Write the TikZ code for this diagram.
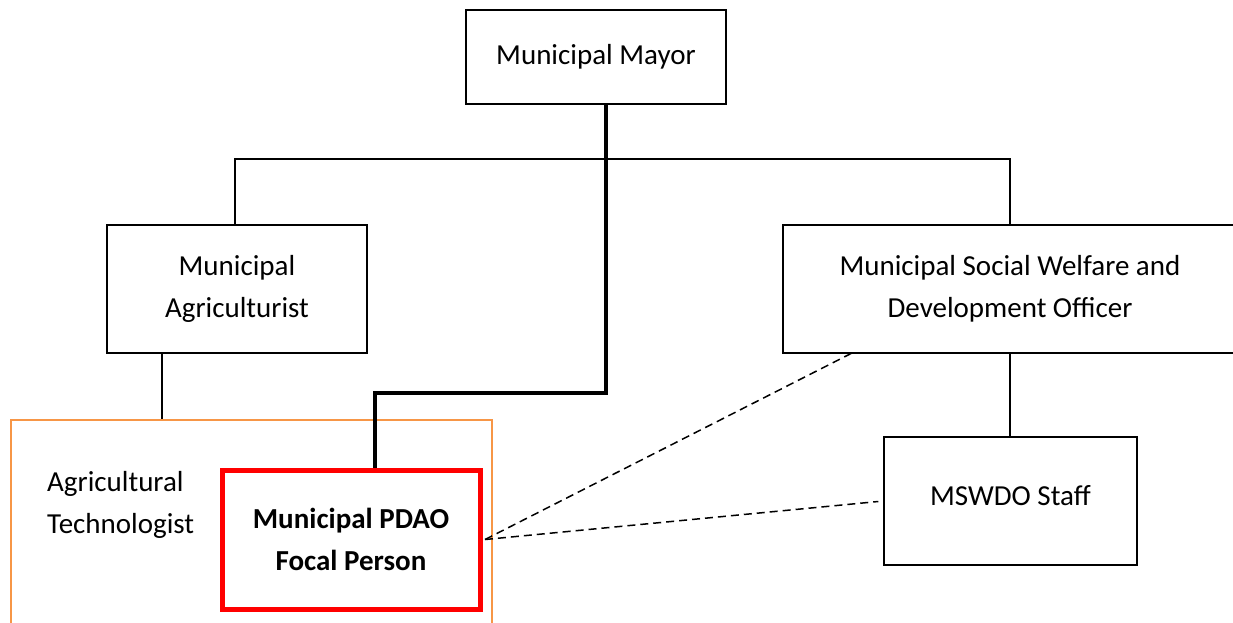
\documentclass[tikz,border=0pt]{standalone}
\usepackage{fontspec}
\setmainfont{Carlito}
\definecolor{boxorange}{RGB}{247,150,70}
\definecolor{boxred}{RGB}{255,0,0}
\tikzset{
  unit/.style={rectangle, draw=black, line width=1.5pt, inner sep=0pt, align=center,
    font=\fontsize{29}{42}\selectfont},
  thinline/.style={line width=1.5pt},
  thickline/.style={line width=4pt, line join=miter},
  dashline/.style={line width=1.5pt, dash pattern=on 8pt off 5pt},
}
\begin{document}
\begin{tikzpicture}[x=1pt,y=-1pt]
\useasboundingbox (0,0) rectangle (1233,622);
% boxes
\node[unit, minimum width=260pt, minimum height=94pt] (mayor) at (596,57) {Municipal Mayor};
\node[unit, minimum width=260pt, minimum height=128pt] (agri) at (237,289) {Municipal\\Agriculturist};
\node[unit, minimum width=454pt, minimum height=128pt] (sw) at (1010,289) {Municipal Social Welfare and\\Development Officer};
\node[unit, minimum width=253pt, minimum height=128pt] (mswdo) at (1010.5,501) {\raisebox{12pt}{MSWDO Staff}};
\node[rectangle, draw=boxorange, line width=1.5pt, minimum width=481pt, minimum height=240pt, inner sep=0pt, anchor=north west] (tech) at (10,419) {};
\node[anchor=west, align=left, inner sep=0pt, font=\fontsize{29}{42}\selectfont] (techtext) at (47,505) {Agricultural\\Technologist};
\node[unit, draw=boxred, line width=5pt, fill=white, minimum width=258pt, minimum height=139pt, font=\fontsize{29}{42}\selectfont\bfseries] (pdao) at (351,539.5) {Municipal PDAO\\Focal Person};
% coordinates
\coordinate (busL) at (235,159);
\coordinate (busR) at (1010,159);
\coordinate (b1) at (606,393);
\coordinate (b2) at (375,393);
\coordinate (agridrop) at (162,0);
\coordinate (swfoot) at (852,353);
% connectors
\draw[thinline] (busL |- agri.north) -- (busL) -- (busR) -- (busR |- sw.north);
\draw[thinline] (agridrop |- agri.south) -- (agridrop |- tech.north);
\draw[thinline] (sw.south) -- (sw.south |- mswdo.north);
\draw[thickline] (b1 |- mayor.south) -- (b1) -- (b2) -- (b2 |- pdao.north);
\draw[dashline] ([xshift=2.5pt]pdao.east) -- (swfoot);
\draw[dashline, shorten >=5pt] ([xshift=2.5pt]pdao.east) -- (mswdo.west);
\end{tikzpicture}
\end{document}
